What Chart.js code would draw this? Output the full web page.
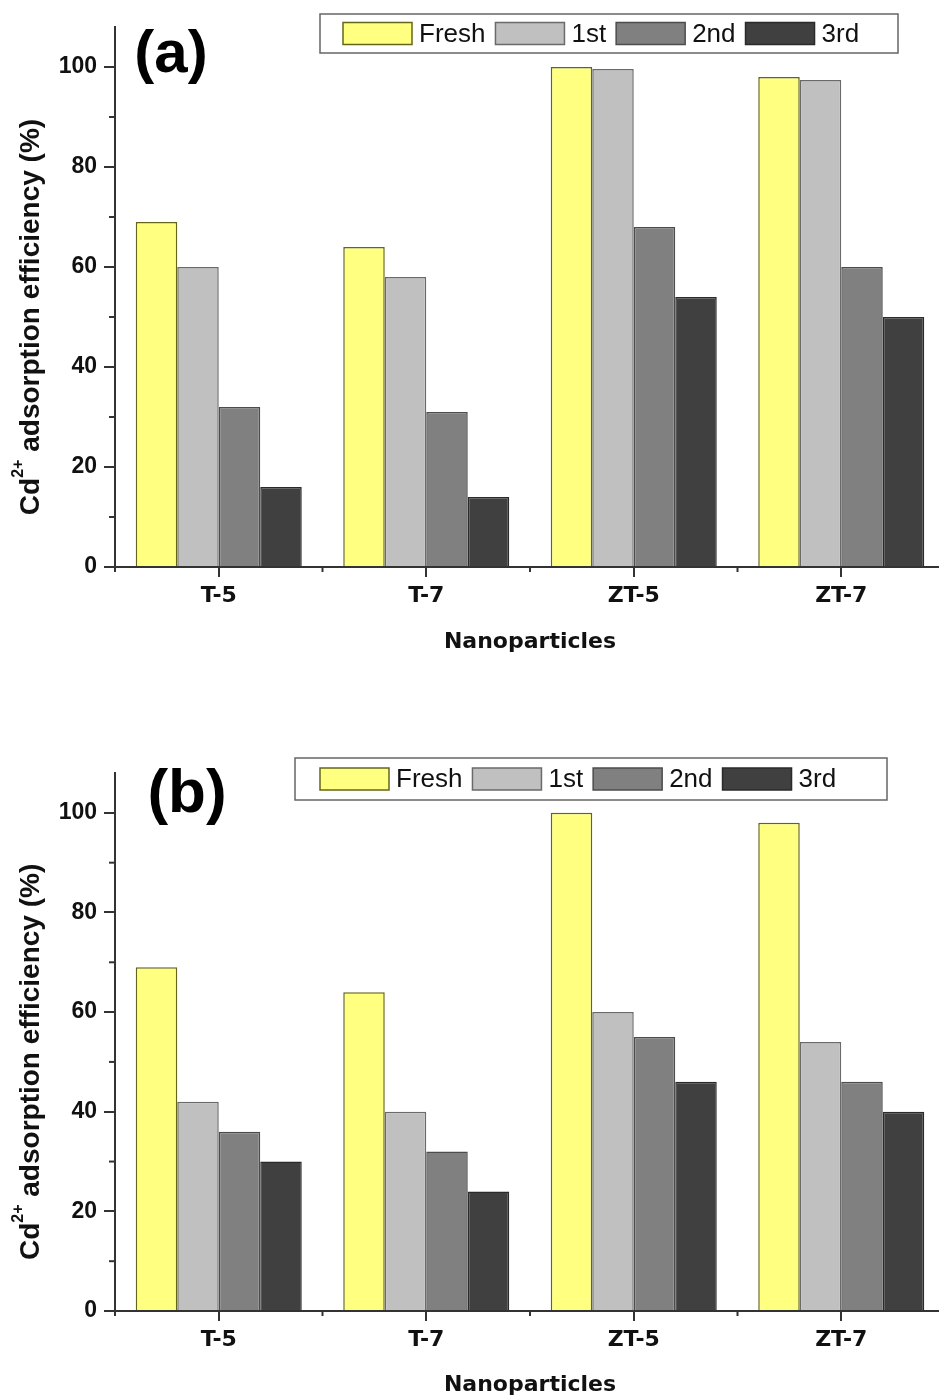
<!DOCTYPE html>
<html>
<head>
<meta charset="utf-8">
<script src="https://cdn.jsdelivr.net/npm/chart.js@4.4.1/dist/chart.umd.min.js"></script>
<style>
  html, body { margin: 0; padding: 0; background: #fff; overflow: hidden; }
  body { width: 939px; height: 1397px; position: relative; }
  canvas { position: absolute; left: 0; }
  #chartA { top: 0; }
  #chartB { top: 700px; }
</style>
</head>
<body>
<canvas id="chartA" width="945" height="700"></canvas>
<canvas id="chartB" width="945" height="697"></canvas>
<script>
//Datos de las dos figuras
const categories = ["T-5", "T-7", "ZT-5", "ZT-7"];
const seriesNames = ["Fresh", "1st", "2nd", "3rd"];

const freshA = [69, 64, 100, 98];
const firstA = [60, 58, 99.6, 97.4];
const secondA = [32, 31, 68, 60];
const thirdA = [16, 14, 54, 50];

const freshB = [69, 64, 100, 98];
const firstB = [42, 40, 60, 54];
const secondB = [36, 32, 55, 46];
const thirdB = [30, 24, 46, 40];

const yTicks = [0, 20, 40, 60, 80, 100];
const yMinorTicks = [10, 30, 50, 70, 90];

//Estilos
const seriesFill = ["#ffff80", "#c0c0c0", "#808080", "#404040"];
const seriesBorder = ["#65651a", "#6a6a6a", "#4c4c4c", "#2a2a2a"];
const axisColor = "#333";
const textColor = "#111";

//Plugin que dibuja ticks menores, leyenda, etiqueta del panel y titulo Y
const decorPlugin = {
  id: "decor",
  afterDraw(chart, args, opts) {
    const ctx = chart.ctx;
    const xs = chart.scales.x;
    const ys = chart.scales.y;
    ctx.save();

    //ticks menores
    ctx.strokeStyle = axisColor;
    ctx.lineWidth = 2;
    yMinorTicks.forEach((v) => {
      const py = ys.getPixelForValue(v);
      ctx.beginPath();
      ctx.moveTo(ys.right - 6, py);
      ctx.lineTo(ys.right, py);
      ctx.stroke();
    });
    for (let i = 0; i <= categories.length; i++) {
      const px = xs.getPixelForValue(i - 0.5);
      ctx.beginPath();
      ctx.moveTo(px, xs.top);
      ctx.lineTo(px, xs.top + 5);
      ctx.stroke();
    }

    //leyenda con marco
    const lb = opts.legendBox;
    ctx.lineWidth = 1.5;
    ctx.strokeStyle = "#666";
    ctx.strokeRect(lb.x, lb.y, lb.w, lb.h);
    ctx.font = '26px "Liberation Sans", Arial, sans-serif';
    ctx.textBaseline = "middle";
    ctx.textAlign = "left";
    let cx = lb.x + lb.padLeft;
    chart.data.datasets.forEach((ds) => {
      const sy = lb.y + (lb.h - 22) / 2;
      ctx.fillStyle = ds.backgroundColor;
      ctx.fillRect(cx, sy, 69, 22);
      ctx.strokeStyle = ds.borderColor;
      ctx.strokeRect(cx, sy, 69, 22);
      cx += 69 + 7;
      ctx.fillStyle = textColor;
      ctx.fillText(ds.label, cx, lb.y + lb.h / 2 + 1);
      cx += ctx.measureText(ds.label).width + 10;
    });

    //etiqueta del panel
    ctx.font = 'bold ' + opts.panelSize + 'px "Liberation Sans", Arial, sans-serif';
    ctx.textAlign = "center";
    ctx.textBaseline = "alphabetic";
    ctx.fillStyle = "#000";
    ctx.fillText(opts.panel, opts.panelX, opts.panelY);

    //titulo del eje Y con superindice
    const mainFont = 'bold 28px "Liberation Sans", Arial, sans-serif';
    const supFont = 'bold 16px "Liberation Sans", Arial, sans-serif';
    const partA = "Cd";
    const partSup = "2+";
    const partB = " adsorption efficiency (%)";
    ctx.translate(29, ys.getPixelForValue(50));
    ctx.rotate(-Math.PI / 2);
    ctx.textAlign = "left";
    ctx.font = mainFont;
    const wA = ctx.measureText(partA).width;
    const wB = ctx.measureText(partB).width;
    ctx.font = supFont;
    const wS = ctx.measureText(partSup).width;
    let tx = -(wA + wS + wB) / 2;
    ctx.fillStyle = textColor;
    ctx.font = mainFont;
    ctx.fillText(partA, tx, 10);
    tx += wA;
    ctx.font = supFont;
    ctx.fillText(partSup, tx, -6);
    tx += wS;
    ctx.font = mainFont;
    ctx.fillText(partB, tx, 10);

    ctx.restore();
  },
};

//Crea un panel de barras
function createPanel(canvasId, values, cfg) {
  const datasets = seriesNames.map((name, i) => ({
    label: name,
    data: values[i],
    backgroundColor: seriesFill[i],
    borderColor: seriesBorder[i],
    borderWidth: 1.5,
    barPercentage: 1,
    categoryPercentage: 0.8,
  }));

  return new Chart(document.getElementById(canvasId), {
    type: "bar",
    data: { labels: categories, datasets: datasets },
    options: {
      responsive: false,
      animation: false,
      devicePixelRatio: 1,
      layout: { padding: { top: cfg.padTop, left: 0, right: 0, bottom: 0 } },
      plugins: {
        legend: { display: false },
        tooltip: { enabled: false },
        decor: cfg.decor,
      },
      scales: {
        x: {
          z: 1,
          grid: {
            display: true,
            drawOnChartArea: false,
            drawTicks: true,
            tickLength: 10,
            color: axisColor,
            lineWidth: 2,
            offset: false,
          },
          border: { display: true, color: axisColor, width: 2 },
          ticks: {
            color: textColor,
            font: { family: "DejaVu Sans", size: 22, weight: "bold" },
            padding: 6,
            maxRotation: 0,
          },
          title: {
            display: true,
            text: "Nanoparticles",
            color: textColor,
            font: { family: "DejaVu Sans", size: 22, weight: "bold", lineHeight: 1 },
            padding: { top: 0, bottom: cfg.titlePad },
          },
          afterFit: (s) => {
            s.height = cfg.xHeight;
          },
        },
        y: {
          z: 1,
          min: 0,
          max: 108,
          afterBuildTicks: (s) => {
            s.ticks = yTicks.map((v) => ({ value: v }));
          },
          grid: {
            display: true,
            drawOnChartArea: false,
            drawTicks: true,
            tickLength: 11,
            color: axisColor,
            lineWidth: 2,
          },
          border: { display: true, color: axisColor, width: 2 },
          ticks: {
            color: textColor,
            font: { family: "Liberation Sans", size: 23, weight: "bold" },
            padding: 7,
          },
          afterFit: (s) => {
            s.width = 115;
          },
        },
      },
    },
    plugins: [decorPlugin],
  });
}

createPanel("chartA", [freshA, firstA, secondA, thirdA], {
  padTop: 27,
  xHeight: 133,
  titlePad: 47,
  decor: {
    panel: "(a)",
    panelSize: 60,
    panelX: 171,
    panelY: 72,
    legendBox: { x: 320, y: 14, w: 578, h: 39, padLeft: 23 },
  },
});

createPanel("chartB", [freshB, firstB, secondB, thirdB], {
  padTop: 73,
  xHeight: 86,
  titlePad: 1,
  decor: {
    panel: "(b)",
    panelSize: 62,
    panelX: 187,
    panelY: 112,
    legendBox: { x: 295, y: 58, w: 592, h: 42, padLeft: 25 },
  },
});
</script>
</body>
</html>
